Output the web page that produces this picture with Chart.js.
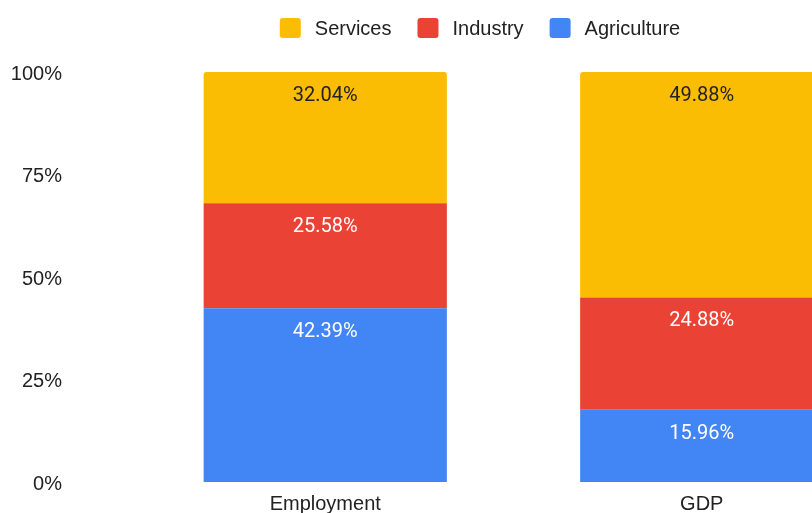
<!DOCTYPE html>
<html>
<head>
<meta charset="utf-8">
<script src="https://cdn.jsdelivr.net/npm/chart.js@4"></script>
<style>
  html, body { margin: 0; padding: 0; background: #fff; overflow: hidden; }
  canvas { display: block; }
</style>
</head>
<body>
<canvas id="c" width="960" height="513"></canvas>
<script>
// Sector shares (%) of employment and GDP
const categories = ['Employment', 'GDP'];
const agriculture = [42.39, 15.96];
const industry = [25.58, 24.88];
const services = [32.04, 49.88];
const yTicks = [0, 25, 50, 75, 100];

const COLORS = { services: '#FBBC04', industry: '#EA4335', agriculture: '#4285F4' };
const AXIS_FONT = 'Arial, "Liberation Sans", sans-serif';
const LABEL_FONT = 'Roboto, "Noto Sans", sans-serif';

// Each column is stacked to 100%; the raw value is kept for labelling.
const totals = categories.map((_, i) => agriculture[i] + industry[i] + services[i]);
const share = arr => arr.map((v, i) => v / totals[i] * 100);

const series = [
  { label: 'Agriculture', raw: agriculture, color: COLORS.agriculture, text: '#ffffff' },
  { label: 'Industry', raw: industry, color: COLORS.industry, text: '#ffffff' },
  { label: 'Services', raw: services, color: COLORS.services, text: '#222222' }
];

// Legend drawn across the top, listed top-of-stack first
const topLegend = {
  id: 'topLegend',
  afterDraw(chart) {
    const ctx = chart.ctx;
    const items = series.slice().reverse();
    const box = 21, boxH = 20, gapText = 14, gapItem = 26, cy = 28;
    ctx.save();
    ctx.font = '20px ' + AXIS_FONT;
    const widths = items.map(s => ctx.measureText(s.label).width);
    let total = 0;
    widths.forEach((w, i) => { total += box + gapText + w + (i < items.length - 1 ? gapItem : 0); });
    let x = chart.width / 2 - total / 2;
    items.forEach((s, i) => {
      ctx.fillStyle = s.color;
      ctx.beginPath();
      ctx.roundRect(x, cy - boxH / 2, box, boxH, 3);
      ctx.fill();
      ctx.fillStyle = '#222222';
      ctx.textAlign = 'left';
      ctx.textBaseline = 'middle';
      ctx.fillText(s.label, x + box + gapText, cy + 1);
      x += box + gapText + widths[i] + gapItem;
    });
    ctx.restore();
  }
};

// Value labels near the top of each segment
const segmentLabels = {
  id: 'segmentLabels',
  afterDatasetsDraw(chart) {
    const ctx = chart.ctx;
    ctx.save();
    ctx.font = '20px ' + LABEL_FONT;
    ctx.textAlign = 'center';
    ctx.textBaseline = 'middle';
    chart.data.datasets.forEach((ds, di) => {
      const meta = chart.getDatasetMeta(di);
      meta.data.forEach((el, i) => {
        ctx.fillStyle = ds.labelColor;
        ctx.fillText(ds.raw[i].toFixed(2) + '%', el.x, el.y + 24);
      });
    });
    ctx.restore();
  }
};

// Nudge an axis' tick labels down a little so digits sit centred on their value
function nudgeLabels(scale, dy) {
  if (scale._nudged) return;
  const draw = scale.drawLabels.bind(scale);
  scale.drawLabels = area => {
    scale.ctx.save();
    scale.ctx.translate(0, dy);
    draw(area);
    scale.ctx.restore();
  };
  scale._nudged = true;
}

const chart = new Chart(document.getElementById('c'), {
  type: 'bar',
  data: {
    labels: categories,
    datasets: series.map(s => ({
      label: s.label,
      data: share(s.raw),
      raw: s.raw,
      labelColor: s.text,
      backgroundColor: s.color,
      borderWidth: 0,
      borderRadius: 3,
      barPercentage: 1,
      categoryPercentage: 0.646
    }))
  },
  options: {
    responsive: false,
    animation: false,
    layout: { padding: { top: 72, right: 70, left: 0, bottom: 0 } },
    plugins: {
      legend: { display: false },
      tooltip: { enabled: false }
    },
    scales: {
      x: {
        stacked: true,
        grid: { display: false, drawTicks: false },
        border: { display: false },
        ticks: { color: '#222222', font: { family: AXIS_FONT, size: 20 }, padding: 10 },
        afterFit(s) { s.height = 31; }
      },
      y: {
        stacked: true,
        min: 0,
        max: 100,
        afterBuildTicks(s) { s.ticks = yTicks.map(v => ({ value: v })); },
        grid: { display: false, drawTicks: false },
        border: { display: false },
        ticks: {
          color: '#222222',
          font: { family: AXIS_FONT, size: 20 },
          padding: 75,
          callback: v => v + '%'
        },
        afterFit(s) {
          // wide gap between labels and bars; keep only the half-label overhang
          s.width = 137;
          s.paddingTop = 12;
          s.paddingBottom = 12;
        },
        afterUpdate(s) { nudgeLabels(s, 2); }
      }
    }
  },
  plugins: [topLegend, segmentLabels]
});
</script>
</body>
</html>
